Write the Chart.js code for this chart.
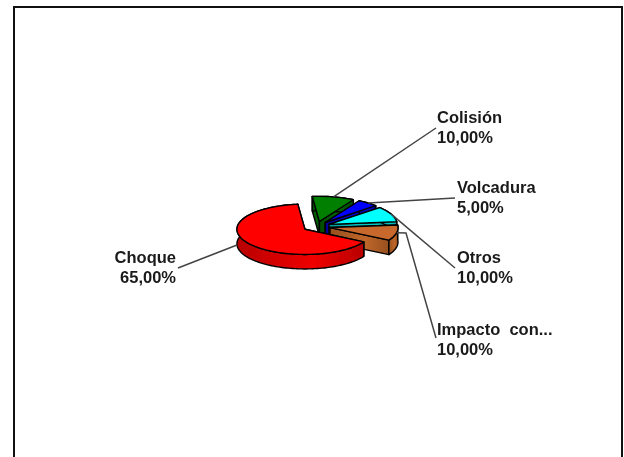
<!DOCTYPE html>
<html lang="es">
<head>
  <meta charset="UTF-8" />
  <title>Tipos de accidente</title>
  <script src="https://cdn.jsdelivr.net/npm/chart.js"></script>
  <style>
    html, body { margin: 0; padding: 0; background: #fff; overflow: hidden; }
    canvas { display: block; }
  </style>
</head>
<body>
  <canvas id="pie3d" width="624" height="457"></canvas>

  <script>
    const categories = ['Choque', 'Colisión', 'Volcadura', 'Otros', 'Impacto  con...'];
    const percents = [65, 10, 5, 10, 10];
    const percentLabels = ['65,00%', '10,00%', '5,00%', '10,00%', '10,00%'];

    const topColors = ['#ff0000', '#007f00', '#0000ff', '#00ffff', '#c8682c'];
    const sideDark = ['#b80000', '#004c00', '#000099', '#009999', '#96501e'];
    const sideLight = ['#f00000', '#006600', '#0000cc', '#00cccc', '#c0662a'];

    // leader line ends and text anchor for each label
    const labelLayout = [
      { lineFrom: [237, 245], lineTo: [178, 268], x: 176, y: 263, align: 'right' },
      { lineTo: [436, 128], x: 437, y: 123, align: 'left' },
      { lineTo: [455, 198], x: 457, y: 193, align: 'left' },
      { lineTo: [455, 268], x: 457, y: 263, align: 'left' },
      { lineTo: [436, 338], x: 437, y: 335, align: 'left', elbow: [406, 233] }
    ];

    const squash = 0.37;
    const depth = 14.5;
    const explode = 13.8;

    function point(arc, angle, r, drop) {
      const mid = (arc.startAngle + arc.endAngle) / 2;
      return [
        arc.x + explode * Math.cos(mid) + r * Math.cos(angle),
        arc.y + (explode * Math.sin(mid) + r * Math.sin(angle)) * squash + drop
      ];
    }

    function rimPoints(arc, drop) {
      const pts = [];
      const steps = Math.ceil((arc.endAngle - arc.startAngle) * 30);
      for (let i = 0; i <= steps; i++) {
        const a = arc.startAngle + (arc.endAngle - arc.startAngle) * i / steps;
        pts.push(point(arc, a, arc.outerRadius, drop));
      }
      return pts;
    }

    function polygon(ctx, pts) {
      ctx.beginPath();
      pts.forEach((p, i) => i ? ctx.lineTo(p[0], p[1]) : ctx.moveTo(p[0], p[1]));
      ctx.closePath();
    }

    function wall(ctx, pts, i) {
      const xs = pts.map(p => p[0]);
      const x0 = Math.min(...xs), x1 = Math.max(...xs);
      const g = ctx.createLinearGradient(x0, 0, Math.max(x1, x0 + 1), 0);
      g.addColorStop(0, sideDark[i]);
      g.addColorStop(0.6, sideLight[i]);
      g.addColorStop(1, sideDark[i]);
      ctx.fillStyle = g;
      polygon(ctx, pts);
      ctx.fill();
      ctx.stroke();
    }

    const pie3d = {
      id: 'pie3d',
      beforeDraw(chart) {
        // frame, open at the bottom of the page
        const ctx = chart.ctx;
        ctx.save();
        ctx.strokeStyle = '#111';
        ctx.lineWidth = 2;
        ctx.beginPath();
        ctx.moveTo(14, 457);
        ctx.lineTo(14, 7);
        ctx.lineTo(622, 7);
        ctx.lineTo(622, 457);
        ctx.stroke();
        ctx.restore();
      },
      beforeDatasetDraw(chart, args) {
        const ctx = chart.ctx;
        const arcs = args.meta.data.map((el, i) => ({
          i, el, arc: el.getProps(['x', 'y', 'startAngle', 'endAngle', 'outerRadius'], true)
        }));

        // sides first, from back to front
        ctx.save();
        ctx.strokeStyle = '#000';
        ctx.lineWidth = 1.4;
        ctx.lineJoin = 'round';
        const order = arcs.slice().sort((a, b) =>
          Math.sin((a.arc.startAngle + a.arc.endAngle) / 2) - Math.sin((b.arc.startAngle + b.arc.endAngle) / 2));
        order.forEach(({ i, arc }) => {
          const apexTop = point(arc, 0, 0, 0);
          const apexLow = point(arc, 0, 0, depth);
          const startTop = point(arc, arc.startAngle, arc.outerRadius, 0);
          const startLow = point(arc, arc.startAngle, arc.outerRadius, depth);
          const endTop = point(arc, arc.endAngle, arc.outerRadius, 0);
          const endLow = point(arc, arc.endAngle, arc.outerRadius, depth);
          wall(ctx, [apexTop, startTop, startLow, apexLow], i);
          wall(ctx, [apexTop, endTop, endLow, apexLow], i);
          wall(ctx, rimPoints(arc, 0).concat(rimPoints(arc, depth).reverse()), i);
        });
        ctx.restore();

        // top faces come from the library's own arc elements
        arcs.forEach(({ el, arc }) => {
          const mid = (arc.startAngle + arc.endAngle) / 2;
          ctx.save();
          ctx.translate(explode * Math.cos(mid), arc.y + explode * Math.sin(mid) * squash);
          ctx.scale(1, squash);
          ctx.translate(0, -arc.y);
          el.draw(ctx);
          ctx.restore();
        });

        // outlines stay the same width after squashing
        ctx.save();
        ctx.strokeStyle = '#000';
        ctx.lineWidth = 1.4;
        ctx.lineJoin = 'round';
        arcs.forEach(({ arc }) => {
          polygon(ctx, [point(arc, 0, 0, 0)].concat(rimPoints(arc, 0)));
          ctx.stroke();
        });
        ctx.restore();
        return false;
      },
      afterDraw(chart) {
        const ctx = chart.ctx;
        const arcs = chart.getDatasetMeta(0).data;
        ctx.save();
        arcs.forEach((el, i) => {
          const arc = el.getProps(['x', 'y', 'startAngle', 'endAngle', 'outerRadius'], true);
          const l = labelLayout[i];
          const mid = (arc.startAngle + arc.endAngle) / 2;
          const from = l.lineFrom || point(arc, mid, arc.outerRadius, 0);
          ctx.strokeStyle = '#444';
          ctx.lineWidth = 1.5;
          ctx.beginPath();
          ctx.moveTo(from[0], from[1]);
          if (l.elbow) ctx.lineTo(l.elbow[0], l.elbow[1]);
          ctx.lineTo(l.lineTo[0], l.lineTo[1]);
          ctx.stroke();

          ctx.fillStyle = '#1a1a1a';
          ctx.font = 'bold 16.5px "Liberation Sans", Arial, sans-serif';
          ctx.textAlign = l.align;
          ctx.textBaseline = 'alphabetic';
          ctx.fillText(categories[i], l.x, l.y);
          ctx.fillText(percentLabels[i], l.x, l.y + 20);
        });
        ctx.restore();
      }
    };

    new Chart(document.getElementById('pie3d').getContext('2d'), {
      type: 'pie',
      data: {
        labels: categories,
        datasets: [{
          data: percents,
          backgroundColor: topColors,
          borderWidth: 0,
          radius: 68
        }]
      },
      options: {
        responsive: false,
        animation: false,
        rotation: 120,
        layout: { padding: { left: 9, bottom: 4 } },
        plugins: {
          legend: { display: false },
          title: { display: false },
          tooltip: { enabled: false }
        }
      },
      plugins: [pie3d]
    });
  </script>
</body>
</html>
